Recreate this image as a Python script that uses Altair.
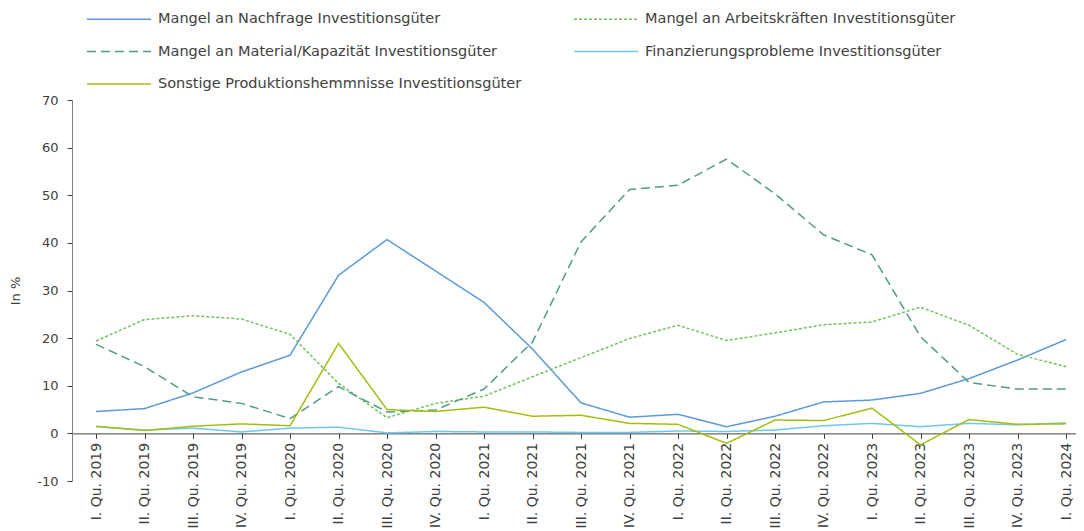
import altair as alt
import pandas as pd

quarters = [
    "I. Qu. 2019", "II. Qu. 2019", "III. Qu. 2019", "IV. Qu. 2019",
    "I. Qu. 2020", "II. Qu. 2020", "III. Qu. 2020", "IV. Qu. 2020",
    "I. Qu. 2021", "II. Qu. 2021", "III. Qu. 2021", "IV. Qu. 2021",
    "I. Qu. 2022", "II. Qu. 2022", "III. Qu. 2022", "IV. Qu. 2022",
    "I. Qu. 2023", "II. Qu. 2023", "III. Qu. 2023", "IV. Qu. 2023",
    "I. Qu. 2024",
]

series_names = [
    "Mangel an Nachfrage Investitionsgüter",
    "Mangel an Arbeitskräften Investitionsgüter",
    "Mangel an Material/Kapazität Investitionsgüter",
    "Finanzierungsprobleme Investitionsgüter",
    "Sonstige Produktionshemmnisse Investitionsgüter",
]

nachfrage = [4.6, 5.2, 8.5, 12.9, 16.4, 33.2, 40.7, 34.1, 27.5, 17.7, 6.4,
             3.4, 4.0, 1.4, 3.6, 6.6, 7.0, 8.4, 11.5, 15.4, 19.7]
arbeitskraefte = [19.4, 23.9, 24.7, 24.0, 20.8, 10.5, 3.3, 6.3, 7.8, 11.9, 15.9,
                  19.9, 22.7, 19.5, 21.1, 22.8, 23.4, 26.5, 22.7, 16.6, 14.0]
material = [18.7, 14.0, 7.7, 6.3, 3.1, 9.8, 4.5, 4.9, 9.3, 19.2, 40.2,
            51.2, 52.1, 57.6, 50.3, 41.7, 37.5, 20.3, 10.7, 9.3, 9.3]
finanzierung = [1.4, 0.7, 1.1, 0.3, 1.1, 1.3, 0.1, 0.4, 0.3, 0.3, 0.2,
                0.2, 0.5, 0.4, 0.7, 1.6, 2.1, 1.4, 2.1, 1.8, 2.2]
sonstige = [1.5, 0.6, 1.5, 2.0, 1.6, 18.9, 5.0, 4.6, 5.5, 3.6, 3.8,
            2.1, 1.9, -2.1, 2.8, 2.7, 5.3, -2.4, 2.9, 1.9, 2.0]

colors = ["#5B9BD5", "#70C25E", "#4E9C88", "#6DC8F0", "#A3BE0F"]
dashes = [[1, 0], [3, 2], [9, 5], [1, 0], [1, 0]]

all_values = [nachfrage, arbeitskraefte, material, finanzierung, sonstige]
rows = []
for name, vals in zip(series_names, all_values):
    for i, (q, v) in enumerate(zip(quarters, vals)):
        rows.append({"idx": i, "Quartal": q, "Wert": v, "Reihe": name})
df = pd.DataFrame(rows)

H = 381
W = 1004
PAD_TOP = 92
PAD_LEFT = 64
PAD_BOTTOM = 531 - 8 - PAD_TOP - H

quarter_array = "[" + ",".join("'" + q + "'" for q in quarters) + "]"

chart = alt.Chart(df).mark_line(strokeWidth=1.5).encode(
    x=alt.X("idx:Q", title=None,
            scale=alt.Scale(domain=[-0.495, 20.206], nice=False, zero=False),
            axis=alt.Axis(values=list(range(len(quarters))),
                          labelExpr=quarter_array + "[datum.value]",
                          labelAngle=-90, labelAlign="right", labelBaseline="middle",
                          offset=-H / 8, domainColor="#404040",
                          tickColor="#404040", tickSize=5, labelFontSize=14,
                          labelColor="#404040", labelPadding=4, grid=False,
                          labelFlush=False, labelOverlap=False,
                          labelFont="DejaVu Sans")),
    y=alt.Y("Wert:Q", title="In %",
            scale=alt.Scale(domain=[-10, 70], nice=False, zero=False),
            axis=alt.Axis(values=list(range(-10, 80, 10)), grid=False,
                          labelExpr="datum.value < 0 ? '-' + abs(datum.value) : '' + datum.value",
                          domainColor="#7F7F7F", tickColor="#404040", tickSize=5,
                          labelFontSize=13, labelColor="#404040", labelPadding=9,
                          titleFontSize=13, titleFontWeight="normal",
                          titleColor="#404040", titlePadding=14,
                          labelFont="DejaVu Sans", titleFont="DejaVu Sans")),
    color=alt.Color("Reihe:N", sort=series_names,
                    scale=alt.Scale(domain=series_names, range=colors),
                    legend=alt.Legend(title=None, orient="none", legendX=38, legendY=-90,
                                      columns=2, direction="horizontal",
                                      symbolType="M-4,0H4",
                                      symbolSize=256, symbolStrokeWidth=1.5,
                                      labelFontSize=14.5, labelColor="#404040",
                                      labelFont="DejaVu Sans", labelLimit=600,
                                      rowPadding=16.5, columnPadding=49,
                                      labelOffset=30)),
    strokeDash=alt.StrokeDash("Reihe:N", sort=series_names,
                              scale=alt.Scale(domain=series_names, range=dashes),
                              legend=None),
).properties(
    width=W, height=H,
    autosize=alt.AutoSizeParams(type="none"),
    padding={"left": PAD_LEFT, "top": PAD_TOP, "right": 0, "bottom": PAD_BOTTOM},
).configure_view(stroke=None)

chart.save("out.html", embed_options={"renderer": "svg", "actions": False})
